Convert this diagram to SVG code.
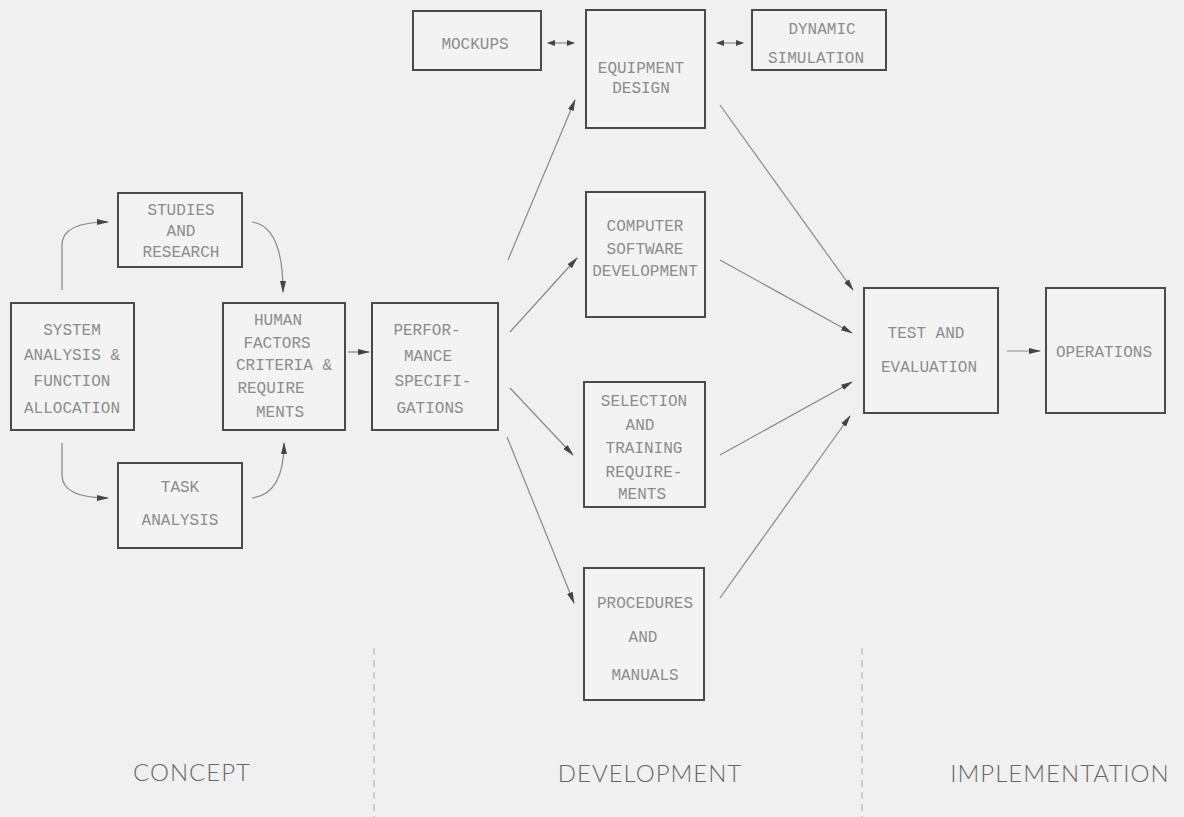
<svg xmlns="http://www.w3.org/2000/svg" width="1184" height="817" viewBox="0 0 1184 817">
<style>
.box{fill:#f3f3f3;stroke:#4a4a4a;stroke-width:2}
.t{font-family:"Liberation Mono","DejaVu Sans Mono",monospace;font-size:16px;fill:#8c8c8c;text-anchor:middle}
.c{fill:none;stroke:#888;stroke-width:1.2}
.lbl{font-family:Lato,"Open Sans","Liberation Sans",sans-serif;font-weight:300;font-size:24px;fill:#666;text-anchor:middle;letter-spacing:1px}
.div{stroke:#aaa;stroke-width:1;stroke-dasharray:7 5}
</style>
<defs>
<marker id="ah" markerWidth="12" markerHeight="8" refX="11" refY="4" orient="auto" markerUnits="userSpaceOnUse">
<path d="M0,1 L12,4 L0,7 Z" fill="#444"/>
</marker>
<marker id="sh" markerWidth="8" markerHeight="6" refX="7" refY="3" orient="auto-start-reverse" markerUnits="userSpaceOnUse">
<path d="M0,0 L8,3 L0,6 Z" fill="#444"/>
</marker>
</defs>
<rect width="1184" height="817" fill="#f0f0f0"/>

<g id="mockups"><rect class="box" x="413" y="11" width="128" height="59"/><text class="t" x="475" y="49">MOCKUPS</text></g>
<g id="equipment"><rect class="box" x="586" y="10" width="119" height="118"/><text class="t" x="641" y="73">EQUIPMENT</text><text class="t" x="641" y="93">DESIGN</text></g>
<g id="dynamic"><rect class="box" x="752" y="10" width="134" height="60"/><text class="t" x="822" y="34">DYNAMIC</text><text class="t" x="816" y="63">SIMULATION</text></g>

<g id="studies"><rect class="box" x="118" y="193" width="124" height="74"/><text class="t" x="181" y="215">STUDIES</text><text class="t" x="181" y="236">AND</text><text class="t" x="181" y="257">RESEARCH</text></g>
<g id="system"><rect class="box" x="11" y="303" width="123" height="127"/><text class="t" x="72" y="335">SYSTEM</text><text class="t" x="72" y="360">ANALYSIS &amp;</text><text class="t" x="72" y="386">FUNCTION</text><text class="t" x="72" y="413">ALLOCATION</text></g>
<g id="human"><rect class="box" x="223" y="303" width="122" height="127"/><text class="t" x="278" y="325">HUMAN</text><text class="t" x="277" y="348">FACTORS</text><text class="t" x="284" y="370">CRITERIA &amp;</text><text class="t" x="271" y="393">REQUIRE</text><text class="t" x="280" y="417">MENTS</text></g>
<g id="task"><rect class="box" x="118" y="463" width="124" height="85"/><text class="t" x="180" y="492">TASK</text><text class="t" x="180" y="525">ANALYSIS</text></g>
<g id="performance"><rect class="box" x="372" y="303" width="126" height="127"/><text class="t" x="427" y="335">PERFOR-</text><text class="t" x="428" y="361">MANCE</text><text class="t" x="433" y="386">SPECIFI-</text><text class="t" x="430" y="413">GATIONS</text></g>

<g id="computer"><rect class="box" x="586" y="192" width="119" height="125"/><text class="t" x="645" y="231">COMPUTER</text><text class="t" x="645" y="254">SOFTWARE</text><text class="t" x="645" y="276">DEVELOPMENT</text></g>
<g id="selection"><rect class="box" x="584" y="382" width="121" height="125"/><text class="t" x="644" y="406">SELECTION</text><text class="t" x="640" y="430">AND</text><text class="t" x="644" y="453">TRAINING</text><text class="t" x="644" y="477">REQUIRE-</text><text class="t" x="642" y="499">MENTS</text></g>
<g id="procedures"><rect class="box" x="584" y="568" width="120" height="132"/><text class="t" x="645" y="608">PROCEDURES</text><text class="t" x="643" y="642">AND</text><text class="t" x="645" y="680">MANUALS</text></g>

<g id="test"><rect class="box" x="864" y="288" width="134" height="125"/><text class="t" x="926" y="338">TEST AND</text><text class="t" x="929" y="372">EVALUATION</text></g>
<g id="operations"><rect class="box" x="1046" y="288" width="119" height="125"/><text class="t" x="1104" y="357">OPERATIONS</text></g>

<g id="connectors">
<path class="c" d="M62,290 L62,245 Q62,222 108,222" marker-end="url(#ah)"/>
<path class="c" d="M62,443 L62,475 Q62,498 108,498" marker-end="url(#ah)"/>
<path class="c" d="M252,222 Q283,226 283,292" marker-end="url(#ah)"/>
<path class="c" d="M252,498 Q284,494 284,443" marker-end="url(#ah)"/>
<path class="c" d="M348,352 L369,352" marker-end="url(#ah)"/>
<path class="c" d="M508,260 L575,100" marker-end="url(#ah)"/>
<path class="c" d="M510,332 L577,258" marker-end="url(#ah)"/>
<path class="c" d="M510,388 L573,455" marker-end="url(#ah)"/>
<path class="c" d="M507,437 L574,603" marker-end="url(#ah)"/>
<path class="c" d="M720,105 L853,290" marker-end="url(#ah)"/>
<path class="c" d="M720,260 L852,333" marker-end="url(#ah)"/>
<path class="c" d="M720,455 L852,382" marker-end="url(#ah)"/>
<path class="c" d="M720,598 L850,416" marker-end="url(#ah)"/>
<path class="c" d="M1007,351 L1040,351" marker-end="url(#ah)"/>
<path class="c" d="M548,43 L574,43" marker-start="url(#sh)" marker-end="url(#sh)"/>
<path class="c" d="M717,43 L743,43" marker-start="url(#sh)" marker-end="url(#sh)"/>
</g>

<g id="phases">
<line class="div" x1="374" y1="648" x2="374" y2="817"/>
<line class="div" x1="862" y1="648" x2="862" y2="817"/>
<text class="lbl" x="192" y="781">CONCEPT</text>
<text class="lbl" x="650" y="782">DEVELOPMENT</text>
<text class="lbl" x="1060" y="782">IMPLEMENTATION</text>
</g>
</svg>
